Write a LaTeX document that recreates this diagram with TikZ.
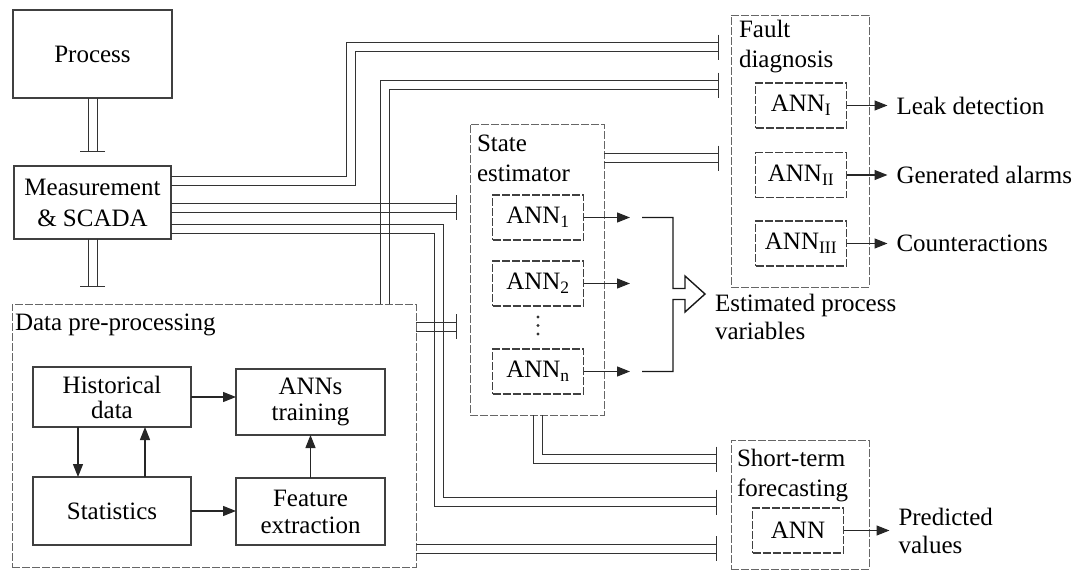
\documentclass[tikz,border=0pt]{standalone}
\usepackage{fontspec}
\setmainfont{Liberation Serif}
\usetikzlibrary{arrows.meta,positioning}

\begin{document}
\begin{tikzpicture}[x=1pt,y=1pt,
    font=\fontsize{25}{28}\selectfont,
    every node/.style={inner sep=0pt, outer sep=0pt},
    box/.style={draw=black!75, line width=1.1pt, align=center},
    group/.style={draw=black!60, line width=1pt, dash pattern=on 8pt off 2pt},
    annbox/.style={box, dash pattern=on 8pt off 2pt, minimum width=91pt, minimum height=45pt},
    arr/.style={draw=black!85, line width=1.2pt, -{Triangle[length=13pt,width=10pt]}, shorten >=0pt},
    outarr/.style={arr, shorten >=9pt},
    wire/.style={draw=black!80, line width=1pt},
    pipe/.style={wire, -{Bar[width=16pt]}},
    outtxt/.style={anchor=west, align=left}]

    % fix the page size
    \useasboundingbox (0,0) rectangle (1087,-574);

    % process and measurement
    \node[box, minimum width=159pt, minimum height=88pt] (proc) at (92.5,-54) {Process};
    \node[box, minimum width=157pt, minimum height=73pt] (meas) at (92.5,-202.5) {Measurement\\[3pt]\& SCADA};

    % data pre-processing block
    \node[group, minimum width=404pt, minimum height=263pt] (dp) at (214,-435.5) {};
    \node[anchor=north west] (dplbl) at (15,-314) {Data pre-processing};
    \node[box, minimum width=158pt, minimum height=60pt] (hist) at (112,-397) {Historical\\[-3pt]data};
    \node[box, minimum width=149pt, minimum height=66pt] (annt) at (310.5,-402) {ANNs\\[-2pt]training};
    \node[box, minimum width=158pt, minimum height=68pt] (stat) at (112,-511) {Statistics};
    \node[box, minimum width=149pt, minimum height=67pt] (feat) at (310.5,-511.5) {Feature\\[-1pt]extraction};

    \draw[arr] (hist.east) -- (hist.east -| annt.west);
    \draw[arr] (stat.east) -- (stat.east -| feat.west);
    \draw[arr] ([xshift=-34pt]hist.south) -- ([xshift=-34pt]stat.north);
    \draw[arr] ([xshift=33pt]stat.north) -- ([xshift=33pt]hist.south);
    \draw[arr] (feat) -- (annt);

    % state estimator block
    \node[group, minimum width=134pt, minimum height=291pt] (se) at (537,-269.5) {};
    \node[anchor=north west, align=left] (selbl) at (477,-135) {State\\[2pt]estimator};
    \node[annbox] (ann1) at (538,-217.5) {ANN\textsubscript{1}};
    \node[annbox] (ann2) at (538,-283.5) {ANN\textsubscript{2}};
    \node[annbox] (annn) at (538,-371.5) {ANN\textsubscript{n}};
    \foreach \y in {-317,-325.5,-334}
        \fill[black!80] (538,\y) circle (1.6pt);

    \coordinate (e1) at (630,-217.5);
    \coordinate (e2) at (630,-283.5);
    \coordinate (en) at (630,-371.5);
    \draw[arr] (ann1) -- (e1);
    \draw[arr] (ann2) -- (e2);
    \draw[arr] (annn) -- (en);

    % merge bracket with hollow arrow
    \draw[black!90, line width=1.4pt, line join=miter]
        (642,-217.5) -- (673,-217.5) -- (673,-288.5) -- (685,-288.5) -- (685,-276)
        -- (705,-294) -- (685,-312) -- (685,-299.5) -- (673,-299.5) -- (673,-371.5) -- (642,-371.5);
    \node[outtxt] (estvar) at (715,-317) {Estimated process\\variables};

    % fault diagnosis block
    \node[group, minimum width=138pt, minimum height=272pt] (fd) at (800,-151) {};
    \node[anchor=north west, align=left] (fdlbl) at (739,-20) {Fault\\[2pt]diagnosis};
    \node[annbox] (annI) at (801,-105.5) {ANN\textsubscript{I}};
    \node[annbox] (annII) at (801,-175) {ANN\textsubscript{II}};
    \node[annbox] (annIII) at (801,-243.5) {ANN\textsubscript{III}};
    \node[outtxt, right=50pt of annI] (leak) {Leak detection};
    \node[outtxt, right=50pt of annII] (alarm) {Generated alarms};
    \node[outtxt, right=50pt of annIII] (counter) {Counteractions};
    \draw[outarr] (annI) -- (leak);
    \draw[outarr] (annII) -- (alarm);
    \draw[outarr] (annIII) -- (counter);

    % short-term forecasting block
    \node[group, minimum width=138pt, minimum height=129pt] (stf) at (800,-504.5) {};
    \node[anchor=north west, align=left] (stflbl) at (737,-449) {Short-term\\[2pt]forecasting};
    \node[annbox] (stfann) at (798,-530.5) {ANN};
    \node[outtxt, right=55pt of stfann] (pred) {Predicted\\values};
    \draw[outarr] (stfann.east) -- (stfann.east -| pred.west);

    % pipe ends
    \coordinate (pm) at (92.5,-152);
    \coordinate (md) at (92.5,-287);
    \coordinate (fd1) at (719,-47);
    \coordinate (fd2) at (719,-85);
    \coordinate (fd3) at (719,-158);
    \coordinate (se1) at (457,-207.5);
    \coordinate (se2) at (457,-326.5);
    \coordinate (sf1) at (717,-459);
    \coordinate (sf2) at (717,-502);
    \coordinate (sf3) at (717,-548.5);

    % double line connections
    \foreach \s in {-4.5,4.5} {
        \draw[pipe] ([xshift=\s]proc.south) -- ([xshift=\s]pm);
        \draw[pipe] ([xshift=\s]meas.south) -- ([xshift=\s]md);
        \draw[pipe] ([yshift={21.5+(\s)}]meas.east) -| ({350.5-(\s)},{-47+(\s)}) -- ([yshift=\s]fd1);
        \draw[pipe] ([xshift={170.5-(\s)}]dp.north) |- ([yshift=\s]fd2);
        \draw[pipe] ([yshift={-5+(\s)}]meas.east) -- ([yshift=\s]se1);
        \draw[pipe] ([yshift={-26+(\s)}]meas.east) -| ({439+(\s)},{-502+(\s)}) -- ([yshift=\s]sf2);
        \draw[pipe] ([yshift={109+(\s)}]dp.east) -- ([yshift=\s]se2);
        \draw[pipe] ([yshift={111.5+(\s)}]se.east) -- ([yshift=\s]fd3);
        \draw[pipe] ([xshift={0.5-(\s)}]se.south) |- ([yshift={-(\s)}]sf1);
        \draw[pipe] ([yshift={-113+(\s)}]dp.east) -- ([yshift=\s]sf3);
    }

\end{tikzpicture}
\end{document}
